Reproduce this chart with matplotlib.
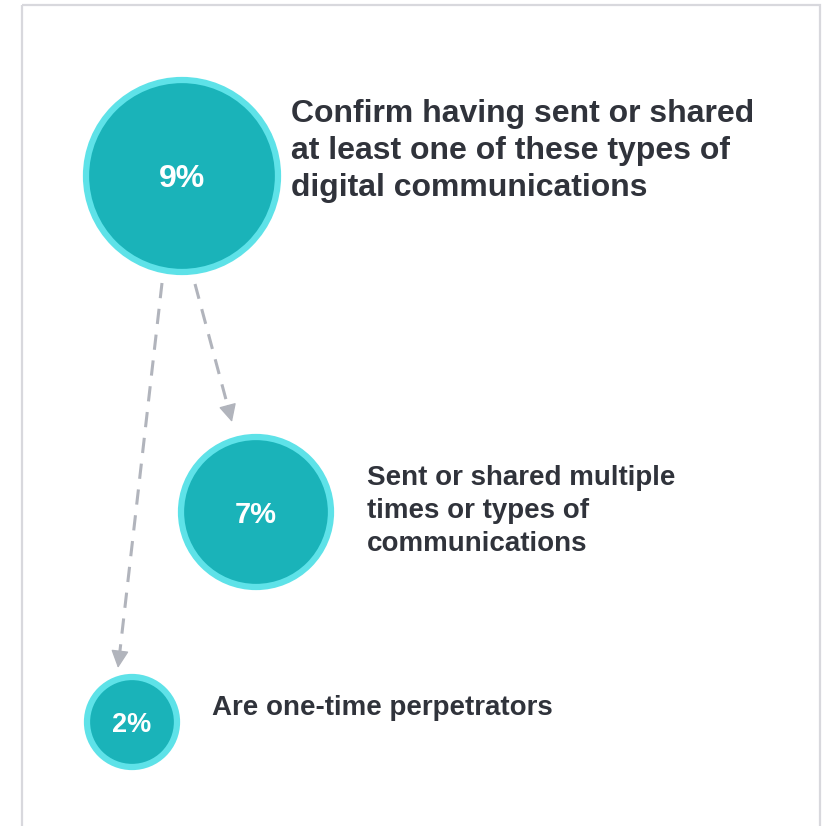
import matplotlib
matplotlib.use("Agg")
import matplotlib.pyplot as plt
from matplotlib.patches import Circle, Rectangle

# Data
values = [9, 7, 2]
value_labels = [f"{v}%" for v in values]
descriptions = [
    "Confirm having sent or shared\nat least one of these types of\ndigital communications",
    "Sent or shared multiple\ntimes or types of\ncommunications",
    "Are one-time perpetrators",
]

# Layout (pixel space)
centers = [(182, 176), (256, 512), (132, 722)]
radii = [99, 78, 48]
label_sizes = [23, 21, 19.5]
text_pos = [(291, 151), (367, 511), (212, 708)]
text_sizes = [23, 20, 20]
text_linespacing = [1.3, 1.33, 1.2]
arrows = [((162, 283), (118, 668)), ((195, 284), (232, 422))]

FILL = "#1ab3b9"
RING = "#5ee2e8"
TEXT = "#30333b"
ARROW = "#b1b4bc"

plt.rcParams['font.family'] = ['Liberation Sans', 'DejaVu Sans']
fig = plt.figure(figsize=(8.25, 8.26), dpi=100)
ax = fig.add_axes([0, 0, 1, 1])
ax.set_xlim(0, 825)
ax.set_ylim(826, 0)
ax.axis("off")

ax.add_patch(Rectangle((22, 5), 798, 840, fill=False, edgecolor="#d8d8dd", lw=1.6))

for (s, e) in arrows:
    dx, dy = e[0] - s[0], e[1] - s[1]
    L = (dx**2 + dy**2) ** 0.5
    ux, uy = dx / L, dy / L
    hl = 15
    ax.plot([s[0], e[0] - ux * hl], [s[1], e[1] - uy * hl], color=ARROW, lw=2.2,
            dashes=(5, 3.5), solid_capstyle="butt", dash_capstyle="butt")
    ax.annotate("", xy=e, xytext=(e[0] - ux * (hl + 2), e[1] - uy * (hl + 2)),
                arrowprops=dict(arrowstyle="-|>,head_length=1.1,head_width=0.55",
                                color=ARROW, lw=1, shrinkA=0, shrinkB=0))

for (cx, cy), r, lab, fs in zip(centers, radii, value_labels, label_sizes):
    ax.add_patch(Circle((cx, cy), r - 3, facecolor=FILL, edgecolor=RING, lw=4.5))
    ax.text(cx, cy + 3, lab, ha="center", va="center", color="white",
            fontsize=fs, fontweight="bold")

for (tx, ty), txt, fs, ls in zip(text_pos, descriptions, text_sizes, text_linespacing):
    ax.text(tx, ty, txt, ha="left", va="center", color=TEXT, fontsize=fs,
            fontweight="bold", linespacing=ls)

fig.savefig("out.png", dpi=100)
